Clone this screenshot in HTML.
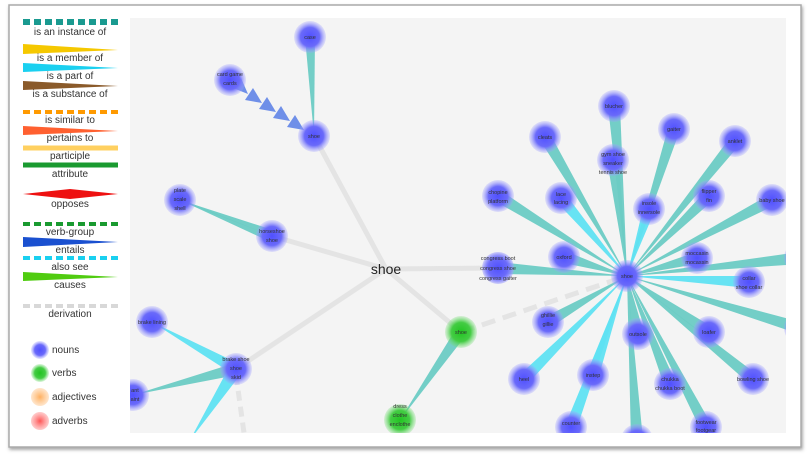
<!DOCTYPE html>
<html><head><meta charset="utf-8"><style>
html,body{margin:0;padding:0;background:#fff;width:810px;height:457px;overflow:hidden}
svg{display:block}
text{font-family:"Liberation Sans",sans-serif}
.l{font-size:10px;fill:#333;text-anchor:middle}
.n{font-size:5.5px;fill:#333;text-anchor:middle}
</style></head><body>
<svg id="s" width="810" height="457" viewBox="0 0 810 457">
<defs>
<radialGradient id="b"><stop offset="0" stop-color="#5050ff"/><stop offset="0.6" stop-color="#6a6afa"/><stop offset="1" stop-color="#a0a0ff" stop-opacity="0.25"/></radialGradient>
<radialGradient id="g"><stop offset="0" stop-color="#22c422"/><stop offset="0.6" stop-color="#44cc44"/><stop offset="1" stop-color="#77dd77" stop-opacity="0.25"/></radialGradient>
<radialGradient id="o"><stop offset="0" stop-color="#ffb060"/><stop offset="1" stop-color="#ffc080" stop-opacity="0.4"/></radialGradient>
<radialGradient id="r"><stop offset="0" stop-color="#ff5555"/><stop offset="1" stop-color="#ff8080" stop-opacity="0.4"/></radialGradient>
<clipPath id="c"><rect x="130" y="18" width="656" height="415"/></clipPath>
<filter id="sh" x="-5%" y="-5%" width="110%" height="110%"><feDropShadow dx="1" dy="2" stdDeviation="1.5" flood-color="#666" flood-opacity="0.6"/></filter>
</defs>
<rect x="9" y="5" width="792" height="442" fill="#fff" stroke="#aaa" stroke-width="1.5" filter="url(#sh)"/>
<rect x="130" y="18" width="656" height="415" fill="#f4f4f4"/>
<g clip-path="url(#c)">
<g stroke="#e4e4e4" stroke-width="5" fill="none">
<line x1="386" y1="269" x2="314" y2="136"/>
<line x1="386" y1="269" x2="272" y2="236"/>
<line x1="386" y1="269" x2="236" y2="369"/>
<line x1="386" y1="269" x2="461" y2="332"/>
<line x1="386" y1="269" x2="498" y2="268"/>
<line x1="461" y1="332" x2="627" y2="276" stroke-dasharray="14,8"/>
<line x1="236" y1="375" x2="245" y2="440" stroke-dasharray="10,6"/>
</g>
<g id="edges"></g>
<g fill="#6f8fe8">
<polygon points="304,130 287,127 295,115"/>
<polygon points="290,121 273,118 281,106"/>
<polygon points="276,112 259,109 267,97"/>
<polygon points="262,103 245,100 253,88"/>
<polygon points="248,94 233,88 241,78"/>
</g>
<g id="nodes"></g>
<text x="386" y="274" font-size="14" fill="#222" text-anchor="middle">shoe</text>
<g class="n">
<text x="310" y="39">case</text>
<text x="230" y="76">card game</text><text x="230" y="85">cards</text>
<text x="314" y="138">shoe</text>
<text x="180" y="192">plate</text><text x="180" y="201">scale</text><text x="180" y="210">shell</text>
<text x="272" y="233">horseshoe</text><text x="272" y="242">shoe</text>
<text x="152" y="324">brake lining</text>
<text x="236" y="361">brake shoe</text><text x="236" y="370">shoe</text><text x="236" y="379">skid</text>
<text x="135" y="392">ant</text><text x="135" y="401">aint</text>
<text x="461" y="334">shoe</text>
<text x="400" y="408">dress</text><text x="400" y="417">clothe</text><text x="400" y="426">enclothe</text>
<text x="498" y="260">congress boot</text><text x="498" y="270">congress shoe</text><text x="498" y="280">congress gaiter</text>
<text x="627" y="278">shoe</text>
<text x="614" y="108">blucher</text>
<text x="545" y="139">cleats</text>
<text x="674" y="131">gaiter</text>
<text x="735" y="143">anklet</text>
<text x="613" y="156">gym shoe</text><text x="613" y="165">sneaker</text><text x="613" y="174">tennis shoe</text>
<text x="561" y="196">lace</text><text x="561" y="204">lacing</text>
<text x="649" y="205">insole</text><text x="649" y="214">innersole</text>
<text x="709" y="193">flipper</text><text x="709" y="202">fin</text>
<text x="772" y="202">baby shoe</text>
<text x="498" y="194">chopine</text><text x="498" y="203">platform</text>
<text x="564" y="259">oxford</text>
<text x="697" y="255">moccasin</text><text x="697" y="264">mocassin</text>
<text x="749" y="280">collar</text><text x="749" y="289">shoe collar</text>
<text x="548" y="317">ghillie</text><text x="548" y="326">gillie</text>
<text x="638" y="336">outsole</text>
<text x="709" y="334">loafer</text>
<text x="524" y="381">heel</text>
<text x="593" y="377">instep</text>
<text x="670" y="381">chukka</text><text x="670" y="390">chukka boot</text>
<text x="753" y="381">bowling shoe</text>
<text x="571" y="425">counter</text>
<text x="706" y="424">footwear</text><text x="706" y="432">footgear</text>
</g>
</g>
<g>
<line x1="23" y1="22" x2="118" y2="22" stroke="#1a9a90" stroke-width="6" stroke-dasharray="7,4"/>
<text class="l" x="70" y="35">is an instance of</text>
<polygon points="23,44 118,50 23,54" fill="#f5c800"/>
<text class="l" x="70" y="61">is a member of</text>
<polygon points="23,63 118,68 23,72" fill="#1ad0f0"/>
<text class="l" x="70" y="79">is a part of</text>
<polygon points="23,81 118,86 23,90" fill="#8a5a2a"/>
<text class="l" x="70" y="97">is a substance of</text>
<line x1="23" y1="112" x2="118" y2="112" stroke="#ff9a00" stroke-width="4" stroke-dasharray="7,4"/>
<text class="l" x="70" y="123">is similar to</text>
<polygon points="23,126 118,131 23,135" fill="#ff6030"/>
<text class="l" x="70" y="141">pertains to</text>
<line x1="23" y1="148" x2="118" y2="148" stroke="#ffd060" stroke-width="5"/>
<text class="l" x="70" y="159">participle</text>
<line x1="23" y1="165" x2="118" y2="165" stroke="#1a9a30" stroke-width="5"/>
<text class="l" x="70" y="177">attribute</text>
<polygon points="23,194 70,189 118,194 70,199" fill="#ee1111"/>
<text class="l" x="70" y="207">opposes</text>
<line x1="23" y1="224" x2="118" y2="224" stroke="#1a9a30" stroke-width="4" stroke-dasharray="7,4"/>
<text class="l" x="70" y="235">verb-group</text>
<polygon points="23,237 118,242 23,247" fill="#1a50d0"/>
<text class="l" x="70" y="253">entails</text>
<line x1="23" y1="258" x2="118" y2="258" stroke="#1ad0f0" stroke-width="4" stroke-dasharray="7,4"/>
<text class="l" x="70" y="270">also see</text>
<polygon points="23,272 118,277 23,281" fill="#50cc10"/>
<text class="l" x="70" y="288">causes</text>
<line x1="23" y1="306" x2="118" y2="306" stroke="#d8d8d8" stroke-width="4" stroke-dasharray="7,4"/>
<text class="l" x="70" y="317">derivation</text>
<circle cx="40" cy="350" r="9" fill="url(#b)"/><text x="52" y="353" font-size="10" fill="#333">nouns</text>
<circle cx="40" cy="373" r="9" fill="url(#g)"/><text x="52" y="376" font-size="10" fill="#333">verbs</text>
<circle cx="40" cy="397" r="9" fill="url(#o)"/><text x="52" y="400" font-size="10" fill="#333">adjectives</text>
<circle cx="40" cy="421" r="9" fill="url(#r)"/><text x="52" y="424" font-size="10" fill="#333">adverbs</text>
</g>
</svg>
<script>
var T="#6ccbc4",C="#5fe2f2",NS="http://www.w3.org/2000/svg";
function wedge(x1,y1,x2,y2,w,col){var dx=x2-x1,dy=y2-y1,L=Math.hypot(dx,dy),nx=-dy/L*w/2,ny=dx/L*w/2;
var p=document.createElementNS(NS,"polygon");p.setAttribute("points",x1+","+y1+" "+(x2+nx)+","+(y2+ny)+" "+(x2-nx)+","+(y2-ny));p.setAttribute("fill",col);p.setAttribute("opacity","0.95");document.getElementById("edges").appendChild(p);}
var H=[627,276];
var R=[[614,106,T],[545,137,T],[674,129,T],[735,141,T],[613,160,T],[561,198,C],[649,209,C],[709,196,T],[772,200,T],[498,196,T],[564,257,T],[697,258,T],[749,282,C],[800,328,T],[800,258,T],[548,322,T],[638,334,T],[709,332,T],[524,379,C],[593,375,C],[670,384,T],[753,379,T],[571,427,C],[637,440,T],[706,427,T],[498,268,T]];
R.forEach(function(r){wedge(H[0],H[1],r[0],r[1],12,r[2]);});
wedge(314,136,310,37,10,T);
wedge(272,236,180,200,2,T);wedge(180,200,272,236,12,T);
wedge(152,322,236,369,12,C);
wedge(133,395,236,369,12,T);
wedge(190,440,236,369,14,C);
wedge(400,420,461,332,12,T);
function node(n,f){var c=document.createElementNS(NS,"circle");c.setAttribute("cx",n[0]);c.setAttribute("cy",n[1]);c.setAttribute("r",16);c.setAttribute("fill",f);document.getElementById("nodes").appendChild(c);}
var N=[[310,37],[230,80],[314,136],[180,200],[272,236],[152,322],[236,369],[133,395],[498,268],[627,276]].concat(R.map(function(r){return[r[0],r[1]]}));
N.forEach(function(n){node(n,"url(#b)");});
[[461,332],[400,420]].forEach(function(n){node(n,"url(#g)");});
</script>
</body></html>
